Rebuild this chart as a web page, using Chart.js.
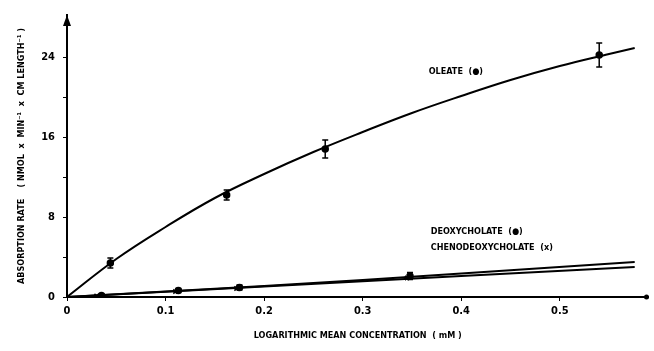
<!DOCTYPE html>
<html>
<head>
<meta charset="utf-8">
<script src="https://cdn.jsdelivr.net/npm/chart.js@4.4.1/dist/chart.umd.min.js"></script>
<style>
  html, body { margin: 0; padding: 0; background: #fff; }
  #wrap { width: 654px; height: 351px; position: relative; }
</style>
</head>
<body>
<div id="wrap"><canvas id="myChart" width="654" height="351"></canvas></div>
<script>
// measured points (mM, nmol/min/cm)
const oleateX = [0.044, 0.162, 0.262, 0.540];
const oleateY = [3.4, 10.2, 14.8, 24.2];
const oleateErr = [0.5, 0.5, 0.9, 1.2];

const deoxyX = [0.035, 0.113, 0.175, 0.348];
const deoxyY = [0.15, 0.65, 0.95, 2.1];
const deoxyErr = [0.15, 0.2, 0.25, 0.35];

const chenoX = [0.030, 0.110, 0.172, 0.345];
const chenoY = [0.1, 0.55, 0.85, 1.9];

// fitted curves
const oleateCurveX = [0, 0.05, 0.1, 0.15, 0.2, 0.25, 0.3, 0.35, 0.4, 0.45, 0.5, 0.55, 0.576];
const oleateCurveY = [0, 3.8, 7.0, 9.9, 12.3, 14.5, 16.5, 18.4, 20.1, 21.7, 23.1, 24.3, 24.9];
const deoxyCurveX = [0, 0.2, 0.4, 0.576];
const deoxyCurveY = [0, 1.1, 2.35, 3.5];
const chenoCurveX = [0, 0.2, 0.4, 0.576];
const chenoCurveY = [0, 1.05, 2.1, 3.0];

const xTicks = [0, 0.1, 0.2, 0.3, 0.4, 0.5];
const yTicks = [0, 4, 8, 12, 16, 20, 24];
const yLabelled = [0, 8, 16, 24];

const curveLabels = [
    { text: 'OLEATE  (\u25CF)', x: 0.367, y: 22.5 },
    { text: 'DEOXYCHOLATE  (\u25CF)', x: 0.369, y: 6.5 },
    { text: 'CHENODEOXYCHOLATE  (x)', x: 0.369, y: 4.9 }
];

const FONT = "'Liberation Sans Narrow', 'DejaVu Sans Condensed', sans-serif";

function pairs(xs, ys) {
    return xs.map((x, i) => ({ x: x, y: ys[i] }));
}

function curveSet(xs, ys) {
    return {
        type: 'line',
        data: pairs(xs, ys),
        borderColor: '#000',
        borderWidth: 2,
        pointRadius: 0,
        tension: 0.4,
        fill: false
    };
}

function pointSet(xs, ys, style) {
    return {
        type: 'scatter',
        data: pairs(xs, ys),
        backgroundColor: '#000',
        borderColor: '#000',
        pointStyle: style,
        pointRadius: 3,
        borderWidth: 1.5
    };
}

// error bars + labels + axis arrows
const extrasPlugin = {
    id: 'extras',
    afterDatasetsDraw(chart) {
        const ctx = chart.ctx;
        const xs = chart.scales.x;
        const ys = chart.scales.y;
        ctx.save();
        ctx.strokeStyle = '#000';
        ctx.lineWidth = 1.5;
        const bars = [[oleateX, oleateY, oleateErr], [deoxyX, deoxyY, deoxyErr]];
        bars.forEach(b => {
            b[0].forEach((x, i) => {
                const px = xs.getPixelForValue(x);
                const top = ys.getPixelForValue(b[1][i] + b[2][i]);
                const bot = ys.getPixelForValue(b[1][i] - b[2][i]);
                ctx.beginPath();
                ctx.moveTo(px, top); ctx.lineTo(px, bot);
                ctx.moveTo(px - 3, top); ctx.lineTo(px + 3, top);
                ctx.moveTo(px - 3, bot); ctx.lineTo(px + 3, bot);
                ctx.stroke();
            });
        });

        ctx.fillStyle = '#000';
        ctx.font = 'bold 9px ' + FONT;
        ctx.textBaseline = 'middle';
        curveLabels.forEach(l => {
            ctx.fillText(l.text, xs.getPixelForValue(l.x), ys.getPixelForValue(l.y));
        });

        // arrow heads on the axes
        const area = chart.chartArea;
        ctx.beginPath();
        ctx.moveTo(area.left, area.top);
        ctx.lineTo(area.left - 4, area.top + 11);
        ctx.lineTo(area.left + 4, area.top + 11);
        ctx.closePath();
        ctx.fill();
        ctx.beginPath();
        ctx.arc(area.right - 2, area.bottom, 2.5, 0, Math.PI * 2);
        ctx.fill();
        ctx.restore();
    }
};

var chart = new Chart(document.getElementById('myChart').getContext('2d'), {
    data: {
        datasets: [
            curveSet(oleateCurveX, oleateCurveY),
            curveSet(deoxyCurveX, deoxyCurveY),
            curveSet(chenoCurveX, chenoCurveY),
            pointSet(oleateX, oleateY, 'circle'),
            pointSet(deoxyX, deoxyY, 'circle'),
            pointSet(chenoX, chenoY, 'crossRot')
        ]
    },
    options: {
        responsive: false,
        animation: false,
        layout: { padding: { top: 15, right: 2, left: 0, bottom: 0 } },
        plugins: {
            legend: { display: false },
            tooltip: { enabled: false }
        },
        scales: {
            x: {
                type: 'linear',
                min: 0,
                max: 0.59,
                afterBuildTicks: s => { s.ticks = xTicks.map(v => ({ value: v })); },
                afterFit: s => { s.height = 54; },
                grid: { drawOnChartArea: false, drawTicks: true, tickLength: 4, color: '#000' },
                border: { display: true, color: '#000', width: 2 },
                ticks: {
                    color: '#000',
                    padding: 4,
                    font: { family: FONT, size: 11, weight: 'bold' },
                    callback: v => v === 0 ? '0' : v.toFixed(1)
                },
                title: {
                    display: true,
                    text: 'LOGARITHMIC MEAN CONCENTRATION  ( mM )',
                    color: '#000',
                    font: { family: FONT, size: 9, weight: 'bold' },
                    padding: { top: 4, bottom: 10 }
                }
            },
            y: {
                type: 'linear',
                min: 0,
                max: 28.2,
                afterBuildTicks: s => { s.ticks = yTicks.map(v => ({ value: v })); },
                afterFit: s => { s.width = 67; },
                grid: { drawOnChartArea: false, drawTicks: true, tickLength: 4, color: '#000' },
                border: { display: true, color: '#000', width: 2 },
                ticks: {
                    color: '#000',
                    padding: 8,
                    font: { family: FONT, size: 11, weight: 'bold' },
                    callback: v => yLabelled.includes(v) ? String(v) : ''
                },
                title: {
                    display: true,
                    text: 'ABSORPTION RATE    ( NMOL  x  MIN\u207B\u00B9  x  CM LENGTH\u207B\u00B9 )',
                    color: '#000',
                    font: { family: FONT, size: 9, weight: 'bold' },
                    padding: { top: 16, bottom: 4 }
                }
            }
        }
    },
    plugins: [extrasPlugin]
});
</script>
</body>
</html>
